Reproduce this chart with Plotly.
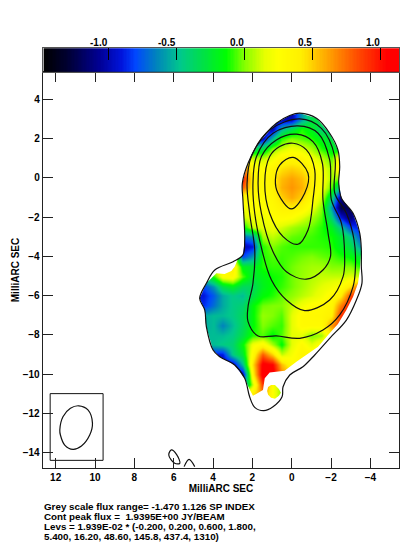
import numpy as np
import plotly.graph_objects as go

W, H = 409, 547

grid_x = [5, 4.5, 4, 3.5, 3, 2.5, 2, 1.5, 1, .5, 0, -.5, -1, -1.5, -2, -2.5, -3, -3.5, -4]
grid_y = [3.5, 3, 2.5, 2, 1.5, 1, .5, 0, -.5, -1, -1.5, -2, -2.5, -3, -3.5, -4, -4.5, -5, -5.5, -6,
          -6.5, -7, -7.5, -8, -8.5, -9, -9.5, -10, -10.5, -11, -11.5]
sp_index = [
 [-1,-1,-1,-1,-1,-1,-1,-1,-1,-1,-1,-.6,-.3,-.3,-.3,-.3,-.3,-.3,-.3],
 [-1,-1,-1,-1,-1,-1,-1,-1,-1,-1,-1,-.6,-.3,-.3,-.3,-.3,-.3,-.3,-.3],
 [-1,-1,-1,-1,-1,-1,-1,-1,-1,-.5,-.3,-.1,-.2,-.4,-.4,-.4,-.4,-.4,-.4],
 [-1,-1,-1,-1,-1,-1,-1,-1,-.5,-.1,0,-.05,-.1,-.2,-.3,-.3,-.3,-.3,-.3],
 [-.3,-.3,-.3,-.3,-.3,-.3,-.3,-.3,0,.1,.2,.15,.05,-.1,-.2,-.3,-.3,-.3,-.3],
 [.5,.5,.5,.5,.5,.5,.1,.1,.2,.35,.35,.35,.2,.1,-.05,.4,.4,.4,.4],
 [.8,.8,.8,.8,.8,.8,.3,.25,.35,.45,.5,.45,.35,.2,.05,.4,.4,.4,.4],
 [1,1,1,1,1,1,.35,.3,.4,.55,.62,.55,.4,.25,.05,0,0,0,0],
 [.8,.8,.8,.8,.8,.8,.35,.3,.38,.58,.65,.58,.4,.22,-.05,-.5,-.5,-.5,-.5],
 [.3,.3,.3,.3,.3,.3,.28,.27,.33,.5,.6,.5,.32,.12,-.35,-1.1,-1,-1,-1],
 [.2,.2,.2,.2,.2,.2,.25,.25,.3,.38,.4,.35,.2,0,-.6,-1.25,-1.2,-.7,-.7],
 [.1,.1,.1,.1,.1,.1,.2,.2,.25,.28,.25,.15,.05,-.05,-.4,-.9,-1.15,-.8,-.8],
 [-.2,-.2,-.2,-.2,-.2,-.2,.1,.15,.18,.12,.05,0,-.03,-.1,-.2,-.45,-.8,-.9,-.9],
 [-.7,-.7,-.7,-.7,-.7,-.7,-.6,.05,.1,.03,-.03,-.05,-.07,-.1,-.12,-.25,-.45,-.8,-.8],
 [-1,-1,-1,-1,-1,-1,-.9,-.1,0,-.05,-.08,-.08,-.08,-.08,-.1,-.2,-.3,-.6,-.6],
 [.3,.3,.3,.3,.3,-.8,-.6,-.1,-.05,-.07,-.05,-.02,0,-.03,-.05,-.1,-.15,-.25,-.25],
 [.3,.3,.3,.3,.4,-.2,-.25,-.1,-.08,-.08,-.02,.02,.05,.05,0,0,0,-.1,-.1],
 [-.4,-.4,-.1,.25,.3,-.05,-.25,-.18,-.12,-.1,-.02,.03,.07,.1,.1,.1,.15,.1,.1],
 [-.8,-.8,-.6,-.3,-.2,-.35,-.35,-.2,-.13,-.08,-.02,.04,.1,.15,.2,.25,.45,.9,.9],
 [-.9,-.9,-.75,-.55,-.45,-.5,-.3,-.15,-.1,-.03,.02,.08,.13,.2,.3,.4,.85,1,1],
 [-.85,-.85,-.7,-.55,-.45,-.4,-.15,-.02,0,0,.1,.2,.28,.3,.35,.7,1,1,1],
 [-.55,-.55,-.5,-.5,-.45,-.35,-.15,.03,0,-.05,.15,.3,.32,.33,.4,.9,1,1,1],
 [-.55,-.55,-.5,-.65,-.5,-.35,-.15,0,-.05,-.08,.15,.3,.3,.3,.65,.9,.9,.9,.9],
 [-.5,-.5,-.5,-.5,-.45,-.3,-.1,-.05,-.15,-.05,.15,.15,0,.05,.4,.4,.4,.4,.4],
 [-.5,-.5,-.5,-.45,-.4,-.15,.2,.3,.05,-.15,.15,.3,.15,.3,.3,.3,.3,.3,.3],
 [-.9,-.9,-.9,-.9,-.45,-.25,.3,.8,.5,.1,.22,.35,.35,.35,.35,.35,.35,.35,.35],
 [-1,-1,-1,-1,-1,-.5,.45,1.1,1.05,.55,.3,.3,.3,.3,.3,.3,.3,.3,.3],
 [-1,-1,-1,-1,-1,-1,.35,1.14,1.14,.7,.5,.5,.5,.5,.5,.5,.5,.5,.5],
 [-.7,-.7,-.7,-.7,-.7,-.7,.1,.9,.25,.0,.3,.3,.3,.3,.3,.3,.3,.3,.3],
 [.4,.4,.4,.4,.4,.4,.4,.7,.25,.0,.5,.5,.5,.5,.5,.5,.5,.5,.5],
 [.4,.4,.4,.4,.4,.4,.4,.7,.25,.0,.5,.5,.5,.5,.5,.5,.5,.5,.5],
]

# Edge of the coloured region (hole in the white cover)
region_x = [-.41,-1.26,-1.93,-2.35,-2.44,-2.39,-2.53,-3.12,-3.46,-3.54,-3.46,-3.37,-3.12,-2.78,-2.35,-1.85,-1.34,-.83,-.24,.36,.70,1.12,1.37,1.46,1.97,2.17,2.39,2.90,3.66,4.0,4.34,4.42,4.68,4.34,3.83,3.41,3.07,2.90,2.76,2.48,2.39,2.48,2.51,2.22,1.63,.78,.10]
region_y = [3.30,3.04,2.28,1.43,.58,-.25,-1.03,-1.80,-2.82,-3.67,-4.69,-5.37,-6.05,-6.73,-7.44,-8.0,-8.60,-8.97,-9.36,-9.82,-9.87,-9.91,-10.21,-10.81,-11.10,-10.72,-10.21,-9.53,-9.11,-8.77,-7.58,-6.73,-6.13,-5.37,-4.86,-4.89,-4.74,-4.52,-4.18,-3.92,-3.16,-1.12,-.27,.75,1.85,2.79,3.18]
blob_x = [1.05, .85, .65, .55, .65, .85, 1.05, 1.2, 1.25, 1.2]
blob_y = [-10.55, -10.55, -10.75, -10.95, -11.1, -11.25, -11.2, -11.05, -10.85, -10.65]

contours = {
 "outer": ([-.41,-1.26,-1.93,-2.35,-2.44,-2.39,-2.53,-3.12,-3.46,-3.54,-3.54,-3.57,-3.29,-2.78,-1.93,-1.17,-.57,.10,.44,.49,.95,1.42,1.88,2.14,2.39,2.90,3.66,4.0,4.34,4.42,4.68,4.34,3.91,2.98,2.48,2.39,2.48,2.51,2.22,1.63,.78,.10,-.41],
           [3.30,3.04,2.28,1.43,.58,-.25,-1.03,-1.80,-2.82,-3.67,-4.52,-5.37,-6.22,-7.24,-8.17,-9.02,-9.62,-10.04,-10.64,-11.15,-11.66,-11.86,-11.69,-11.15,-10.21,-9.53,-9.11,-8.77,-7.58,-6.73,-6.13,-5.37,-4.69,-4.27,-3.92,-3.16,-1.12,-.27,.75,1.85,2.79,3.18,3.30]),
 "l5": ([-.41,-1.51,-2.19,-2.19,-2.78,-3.17,-3.24,-3.12,-2.44,-1.59,-.41,.78,1.71,2.22,2.22,1.97,1.88,2.14,2.27,2.05,1.12,-.41],
        [3.01,2.53,1.09,-.78,-1.80,-3.16,-4.52,-5.54,-6.98,-7.75,-8.17,-8.05,-8.05,-7.32,-6.56,-5.37,-3.67,-1.80,-.27,1.09,2.45,3.01]),
 "l4": ([-.32,-1.34,-1.93,-2.02,-2.53,-2.69,-2.61,-1.93,-.66,.27,1.03,1.49,1.88,1.97,1.79,.95,-.32],
        [2.65,2.28,.92,-1.12,-2.31,-4.01,-5.03,-6.22,-6.76,-6.22,-5.20,-3.76,-1.80,-.27,1.09,2.28,2.65]),
 "l3": ([-.24,-1.08,-1.56,-1.59,-1.85,-1.97,-1.59,-.75,.27,.95,1.54,1.71,1.54,.78,-.24],
        [2.23,1.85,.75,-1.12,-2.82,-4.01,-4.69,-5.16,-4.78,-3.76,-1.80,-.27,1.09,1.94,2.23]),
 "l2": ([-.07,-.75,-1.17,-1.08,-.83,-.32,.44,1.12,1.37,1.12,.61,-.07],
        [1.77,1.43,.41,-1.12,-2.65,-3.38,-2.99,-1.80,-.27,1.09,1.60,1.77]),
 "l1": ([-.07,-.83,-.66,.02,.70,.83,.61,-.07],
        [1.05,.24,-.78,-1.58,-.78,-.10,.66,1.05]),
 "beam": ([10.83,10.36,10.13,10.27,10.69,11.12,11.54,11.76,11.79,11.63,11.25,10.83],
          [-11.61,-11.82,-12.50,-13.10,-13.66,-13.83,-13.61,-13.10,-12.84,-12.17,-11.74,-11.61]),
 "spot1": ([6.12,5.85,5.69,5.95,6.25,6.12],[-13.86,-14.1,-14.54,-14.54,-14.12,-13.86]),
 "spot2": ([5.47,5.22,4.93],[-14.71,-14.34,-14.71]),
}
beam_box_x = [12.28, 9.59, 9.59, 12.28, 12.28]
beam_box_y = [-10.99, -10.99, -14.39, -14.39, -10.99]

scale_vals = [-1.47,-1.3,-1.06,-.9,-.8,-.65,-.47,-.3,-.13,0,.15,.25,.42,.6,.85,1.05,1.14]
scale_cols = ["#000000","#000032","#000096","#0014dc","#0046ff","#0082be","#00c88c","#00e146","#00ff00",
              "#82ff00","#e6ff00","#ffff00","#fff000","#ffaa00","#ff4600","#ff0000","#ff0000"]
zmin, zmax = scale_vals[0], scale_vals[-1]
cscale = [[(v - zmin) / (zmax - zmin), c] for v, c in zip(scale_vals, scale_cols)]

bar_ticks = [-1.0, -0.5, 0.0, 0.5, 1.0]
bar_ramp = np.linspace(zmin, zmax, 260)
x_ticks = [12, 10, 8, 6, 4, 2, 0, -2, -4]
y_ticks = [4, 2, 0, -2, -4, -6, -8, -10, -12, -14]
notes = ["Grey scale flux range= -1.470 1.126 SP INDEX",
         "Cont peak flux =  1.9395E+00 JY/BEAM",
         "Levs = 1.939E-02 * (-0.200, 0.200, 0.600, 1.800,",
         "5.400, 16.20, 48.60, 145.8, 437.4, 1310)"]

L, R, T, B = 42.7, 399.3, 72, 468
FONT = "Liberation Sans"
fig = go.Figure()
fig.add_trace(go.Heatmap(x=grid_x, y=grid_y, z=sp_index, zmin=zmin, zmax=zmax, colorscale=cscale,
                         zsmooth="best", showscale=False, hoverinfo="skip"))
# white cover with holes (opposite winding) for the coloured region
hole_x = region_x[::-1] + [region_x[-1]]
hole_y = region_y[::-1] + [region_y[-1]]
cx = [5.6, -4.6, -4.6, 5.6, 5.6, None] + hole_x + [None] + blob_x[::-1] + [blob_x[-1]]
cy = [4.2, 4.2, -12.3, -12.3, 4.2, None] + hole_y + [None] + blob_y[::-1] + [blob_y[-1]]
fig.add_trace(go.Scatter(x=cx, y=cy, mode="lines", fill="toself", fillcolor="white",
                         line=dict(width=0), hoverinfo="skip", showlegend=False))
for name, (xs, ys) in contours.items():
    fig.add_trace(go.Scatter(x=xs, y=ys, mode="lines", line=dict(color="#111", width=1.2, shape="spline", smoothing=1),
                             hoverinfo="skip", showlegend=False))
fig.add_trace(go.Scatter(x=beam_box_x, y=beam_box_y, mode="lines", line=dict(color="#111", width=1),
                         hoverinfo="skip", showlegend=False))
fig.add_trace(go.Heatmap(x=bar_ramp, y=[0, 1], z=[bar_ramp, bar_ramp], zmin=zmin, zmax=zmax, colorscale=cscale,
                         showscale=False, hoverinfo="skip", xaxis="x2", yaxis="y2"))

tick = dict(size=10, family=FONT, color="black", weight=700)
note_font = dict(size=9.8, family=FONT, color="black", weight=700)
fig.update_layout(
    width=W, height=H, margin=dict(l=0, r=0, t=0, b=0), paper_bgcolor="white", plot_bgcolor="white",
    showlegend=False,
    xaxis=dict(domain=[L / W, R / W], range=[12.66, -5.47], tickvals=x_ticks, ticks="inside", ticklen=10,
               tickcolor="#222", showline=True, linecolor="#222", linewidth=1, mirror="ticks", showgrid=False,
               zeroline=False, tickfont=tick, anchor="y",
               title=dict(text="MilliARC SEC", font=tick, standoff=1)),
    yaxis=dict(domain=[1 - B / H, 1 - T / H], range=[-14.78, 5.4], tickvals=y_ticks, ticks="inside", ticklen=10,
               tickcolor="#222", showline=True, linecolor="#222", linewidth=1, mirror="ticks", showgrid=False,
               zeroline=False, tickfont=tick, anchor="x",
               title=dict(text="MilliARC SEC", font=tick, standoff=1)),
    xaxis2=dict(domain=[L / W, R / W], range=[-1.482, 1.14], tickvals=bar_ticks, ticks="inside", ticklen=12, side="top",
                tickcolor="black", showticklabels=False, showline=True, linecolor="#555", linewidth=1, mirror=True,
                showgrid=False, zeroline=False, anchor="y2"),
    yaxis2=dict(domain=[1 - 71.7 / H, 1 - 48.3 / H], range=[0, 1], showticklabels=False, ticks="", showline=True,
                linecolor="#555", linewidth=1, mirror=True, showgrid=False, zeroline=False, anchor="x2"),
)
for v in bar_ticks:
    fig.add_annotation(x=v, xref="x2", y=1 - 42 / H, yref="paper", text=f"{v:.1f}", showarrow=False, xshift=2,
                       xanchor="right", yanchor="middle", font=tick)
for i, s in enumerate(notes):
    fig.add_annotation(x=L / W, xref="paper", y=1 - (506 + 10 * i) / H, yref="paper", text=s.replace("  ", "&nbsp; "),
                       showarrow=False, xanchor="left", yanchor="middle", align="left", xshift=-1, font=note_font)
fig.write_html("out.html", config={"displayModeBar": False},
               post_script="document.body.style.margin='0';")
